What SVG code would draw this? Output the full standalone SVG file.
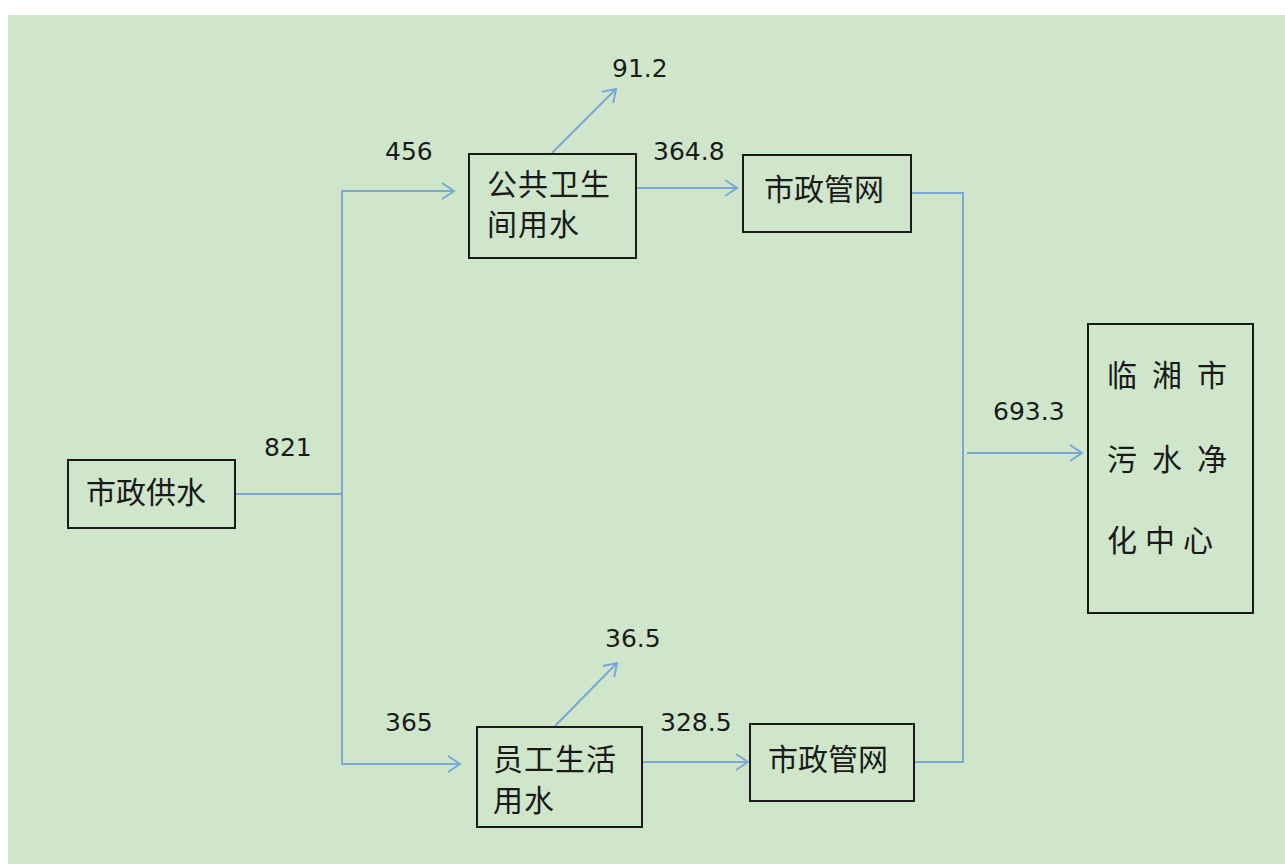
<svg xmlns="http://www.w3.org/2000/svg" width="1285" height="864" viewBox="0 0 1285 864">
<style>
.box{fill:none;stroke:#1a1a1a;stroke-width:2}
.cn{font-family:"Noto Sans CJK SC","Noto Sans",sans-serif;font-size:30px;fill:#1a1a1a}
.num{font-family:"DejaVu Sans","Liberation Sans",sans-serif;font-size:25px;fill:#1a1a1a}
.ln{fill:none;stroke:#7ba7d6;stroke-width:2}
</style>
<defs>
<marker id="arr" markerUnits="userSpaceOnUse" markerWidth="20" markerHeight="20" viewBox="-14 -10 16 20" refX="0" refY="0" orient="auto">
<path d="M-12,-8 L0,0 L-12,8" fill="none" stroke="#7ba7d6" stroke-width="2"/>
</marker>
</defs>
<rect x="0" y="0" width="1285" height="864" fill="#ffffff"/>
<rect x="8" y="15" width="1277" height="849" fill="#cfe6cb"/>
<g id="connectors">
<path class="ln" d="M235,494 H342"/>
<path class="ln" d="M342,494 V191 H454" marker-end="url(#arr)"/>
<path class="ln" d="M342,494 V764 H460" marker-end="url(#arr)"/>
<path class="ln" d="M636,188 H737" marker-end="url(#arr)"/>
<path class="ln" d="M552,153 L616,89" marker-end="url(#arr)"/>
<path class="ln" d="M642,762 H748" marker-end="url(#arr)"/>
<path class="ln" d="M555,726 L617,663" marker-end="url(#arr)"/>
<path class="ln" d="M911,193 H963 V762 H914"/>
<path class="ln" d="M967,453 H1082" marker-end="url(#arr)"/>
</g>
<g id="labels">
<text class="num" x="612" y="77">91.2</text>
<text class="num" x="385" y="160">456</text>
<text class="num" x="653" y="160">364.8</text>
<text class="num" x="264" y="456">821</text>
<text class="num" x="993" y="420">693.3</text>
<text class="num" x="605" y="647">36.5</text>
<text class="num" x="385" y="731">365</text>
<text class="num" x="660" y="731">328.5</text>
</g>
<g id="supply">
<rect class="box" x="68" y="460" width="167" height="68"/>
<text class="cn" x="86" y="503">市政供水</text>
</g>
<g id="public-toilet">
<rect class="box" x="469" y="154" width="167" height="104"/>
<text class="cn" x="487" y="195" letter-spacing="1">公共卫生</text>
<text class="cn" x="487" y="235" letter-spacing="1">间用水</text>
</g>
<g id="staff">
<rect class="box" x="477" y="727" width="165" height="100"/>
<text class="cn" x="493" y="770" letter-spacing="1">员工生活</text>
<text class="cn" x="493" y="811" letter-spacing="1">用水</text>
</g>
<g id="network-top">
<rect class="box" x="743" y="155" width="168" height="77"/>
<text class="cn" x="764" y="200">市政管网</text>
</g>
<g id="network-bottom">
<rect class="box" x="750" y="724" width="164" height="77"/>
<text class="cn" x="768" y="770">市政管网</text>
</g>
<g id="plant">
<rect class="box" x="1088" y="324" width="165" height="289"/>
<text class="cn" x="1107" y="386" letter-spacing="15">临湘市</text>
<text class="cn" x="1107" y="470" letter-spacing="15">污水净</text>
<text class="cn" x="1107" y="551" letter-spacing="8">化中心</text>
</g>
</svg>
